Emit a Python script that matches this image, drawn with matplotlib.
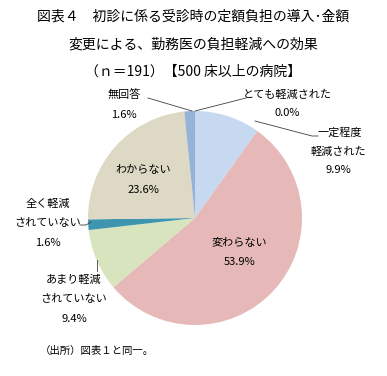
import matplotlib
matplotlib.use("Agg")
import matplotlib.pyplot as plt

plt.rcParams["font.family"] = ["Noto Sans CJK JP", "DejaVu Sans"]

# データ（上から時計回り）
labels = ["とても軽減された", "一定程度\n軽減された", "変わらない", "あまり軽減\nされていない",
          "全く軽減\nされていない", "わからない", "無回答"]
values = [0.0, 9.9, 53.9, 9.4, 1.6, 23.6, 1.6]
colors = ["#c6d9f1", "#c6d9f1", "#e6b9b8", "#d7e4bd", "#3d96ae", "#ddd9c4", "#95b3d7"]

W, H = 387, 376
fig = plt.figure(figsize=(W / 100, H / 100), dpi=100)
ax = fig.add_axes([0, 0, 1, 1])

cx, cy, r = 195, H - 218, 107
ax.pie(values, colors=colors, startangle=90, counterclock=False,
       center=(cx, cy), radius=r, wedgeprops=dict(linewidth=0))
ax.set_xlim(0, W)
ax.set_ylim(0, H)
ax.set_aspect("equal")
ax.axis("off")

fig.text(0.5, 1 - 17 / H, "図表４　初診に係る受診時の定額負担の導入･金額", ha="center", va="center", fontsize=10)
fig.text(0.5, 1 - 45 / H, "変更による、勤務医の負担軽減への効果", ha="center", va="center", fontsize=10)
fig.text(0.5, 1 - 72 / H, "（ｎ＝191）【500 床以上の病院】", ha="center", va="center", fontsize=10)

# ラベル位置（各行の中心 x, y：ピクセル）
lab_pos = [
    [(287, 95), (287, 113)],
    [(340, 133), (338, 152), (338, 170)],
    [(239, 243), (240, 262)],
    [(74, 280), (74, 299), (74, 319)],
    [(48, 204), (48, 223), (48, 243)],
    [(143, 170), (143, 190)],
    [(124, 95), (124, 115)],
]
for lab, v, pos in zip(labels, values, lab_pos):
    rows = lab.split("\n") + [f"{v:.1f}%"]
    for t, (x, y) in zip(rows, pos):
        ax.text(x, H - y, t, ha="center", va="center", fontsize=8)

# 引き出し線
lines = [
    [(148, 98), (192, 111)],
    [(246, 98), (195, 111)],
    [(255, 121), (312, 136), (318, 136)],
    [(80, 225), (86, 225), (91, 222)],
    [(97, 260), (97, 271)],
]
for pts in lines:
    xs = [p[0] for p in pts]
    ys = [H - p[1] for p in pts]
    ax.plot(xs, ys, color="#404040", lw=0.6)

fig.text(40 / W, 1 - 351 / H, "（出所）図表１と同一。", ha="left", va="center", fontsize=7.5)

fig.savefig("out.png", dpi=100)
